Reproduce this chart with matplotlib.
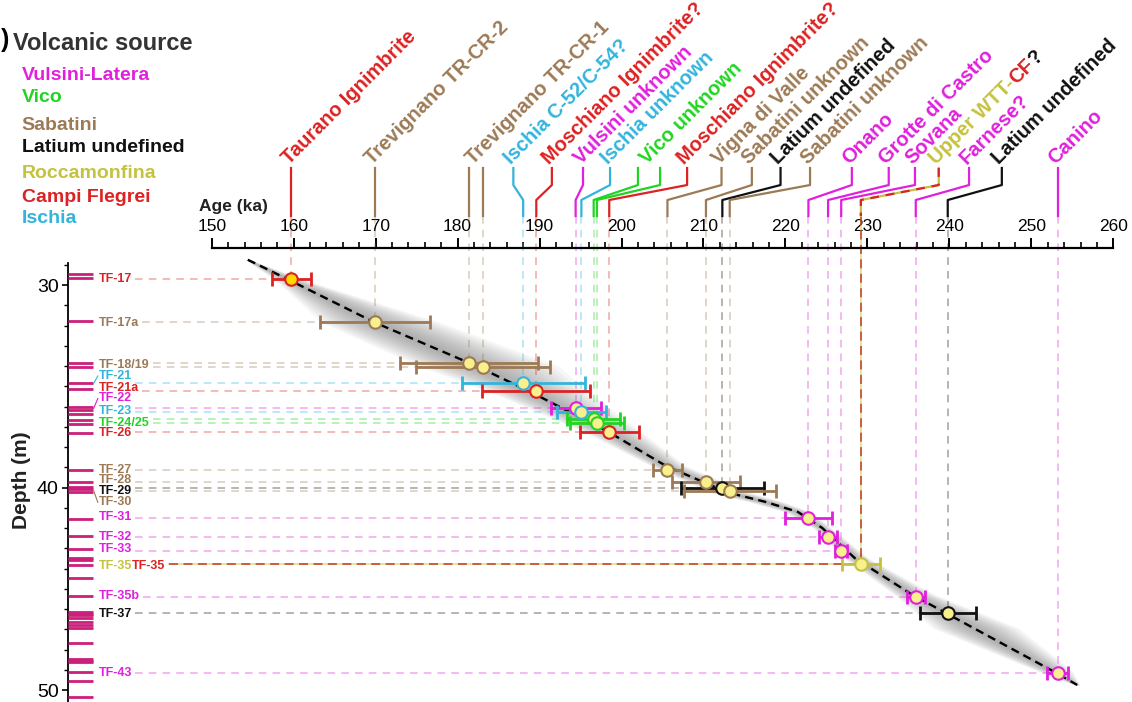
import numpy as np
import matplotlib
matplotlib.use('Agg')
import matplotlib.pyplot as plt
from matplotlib import transforms
from matplotlib.ticker import FixedLocator

plt.rcParams['font.family'] = ['Liberation Sans', 'DejaVu Sans']

# ---------------------------------------------------------------------------
# tephra samples: age (ka), 1-sigma age error (ka), depth (m), volcanic source
samples = ['TF-17', 'TF-17a', 'TF-18', 'TF-19', 'TF-21', 'TF-21a', 'TF-22',
           'TF-23', 'TF-24', 'TF-25', 'TF-26', 'TF-27', 'TF-28', 'TF-29',
           'TF-30', 'TF-31', 'TF-32', 'TF-33', 'TF-35', 'TF-35b', 'TF-37',
           'TF-43']
age = [159.7, 169.9, 181.4, 183.1, 188.0, 189.6, 194.4, 195.1, 196.6, 197.0,
       198.5, 205.6, 210.3, 212.3, 213.2, 222.8, 225.2, 226.8, 229.2, 235.9,
       239.8, 253.2]
age_err = [2.4, 6.7, 8.4, 8.2, 7.5, 6.6, 3.05, 3.0, 3.25, 3.3, 3.6, 1.8, 4.2,
           5.1, 5.6, 2.9, 1.1, 0.7, 2.3, 1.1, 3.4, 1.3]
depth = [29.72, 31.83, 33.87, 34.06, 34.85, 35.22, 36.09, 36.29, 36.62, 36.83,
         37.27, 39.14, 39.74, 40.04, 40.16, 41.49, 42.43, 43.12, 43.79, 45.39,
         46.21, 49.15]
source = ['CF', 'Sab', 'Sab', 'Sab', 'Isc', 'CF', 'VL', 'Isc', 'Vico', 'Vico',
          'CF', 'Sab', 'Sab', 'Lat', 'Sab', 'VL', 'VL', 'VL', 'Roc', 'VL',
          'Lat', 'VL']

# labels on the depth axis
tf_labels = ['TF-17', 'TF-17a', 'TF-18/19', 'TF-21', 'TF-21a', 'TF-22',
             'TF-23', 'TF-24/25', 'TF-26', 'TF-27', 'TF-28', 'TF-29', 'TF-30',
             'TF-31', 'TF-32', 'TF-33', 'TF-35', 'TF-35b', 'TF-37', 'TF-43']
tf_label_src = ['CF', 'Sab', 'Sab', 'Isc', 'CF', 'VL', 'Isc', 'Vico', 'CF',
                'Sab', 'Sab', 'Lat', 'Sab', 'VL', 'VL', 'VL', 'Roc', 'VL',
                'Lat', 'VL']
tf_label_depth = [29.72, 31.86, 33.95, 34.49, 35.10, 35.60, 36.21, 36.80,
                  37.32, 39.14, 39.63, 40.16, 40.73, 41.44, 42.43, 43.05,
                  43.88, 45.36, 46.26, 49.15]

# all sampled tephra layers in the core (m)
core_layers = [29.46, 29.67, 31.78, 33.87, 34.06, 34.85, 35.15, 36.01, 36.17,
               36.37, 36.67, 36.86, 37.29, 39.14, 39.71, 39.96, 40.09, 40.21,
               41.56, 42.38, 43.05, 43.50, 43.60, 43.83, 44.48, 45.36, 46.13,
               46.22, 46.30, 46.46, 46.63, 46.79, 46.95, 47.69, 48.45, 48.55,
               48.62, 49.10, 49.56, 50.33]

# age-depth model and its uncertainty envelope (ka either side)
model_age = [154.4, 159.7, 169.9, 182.3, 189.0, 198.4, 205.5, 213.0, 217.5,
             221.5, 224.5, 228.5, 235.5, 243.0, 252.8, 255.6]
model_depth = [28.75, 29.80, 31.85, 34.00, 35.30, 37.25, 38.95, 40.25, 40.70,
               41.20, 42.00, 43.50, 45.30, 46.95, 49.10, 49.75]
env_left = [0.3, 1.8, 6.5, 7.0, 5.0, 3.0, 1.8, 2.2, 2.0, 1.6, 1.1, 1.3, 2.2,
            5.0, 1.8, 0.3]
env_right = [0.3, 2.0, 8.0, 10.0, 7.0, 4.0, 2.4, 2.7, 2.2, 1.6, 1.1, 1.7, 2.8,
             5.5, 2.3, 0.3]

# correlated eruptions: name, source, [(label age, sample age), ...]
eruptions = ['Taurano Ignimbrite', 'Trevignano TR-CR-2', 'Trevignano TR-CR-1',
             'Ischia C-52/C-54?', 'Moschiano Ignimbrite?', 'Vulsini unknown',
             'Ischia unknown', 'Vico unknown', 'Moschiano Ignimbrite?',
             'Vigna di Valle', 'Sabatini unknown', 'Latium undefined',
             'Sabatini unknown', 'Onano', 'Grotte di Castro', 'Sovana',
             'Upper WTT-CF?', 'Farnese?', 'Latium undefined', 'Canino']
eruption_src = ['CF', 'Sab', 'Sab', 'Isc', 'CF', 'VL', 'Isc', 'Vico', 'CF',
                'Sab', 'Sab', 'Lat', 'Sab', 'VL', 'VL', 'VL', 'Roc', 'VL',
                'Lat', 'VL']
eruption_links = [[(159.7, 159.7)], [(169.9, 169.9)],
                  [(181.4, 181.4), (183.1, 183.1)], [(186.8, 188.0)],
                  [(191.5, 189.6)], [(195.3, 194.4)], [(198.6, 195.1)],
                  [(202.0, 196.6), (204.7, 197.0)], [(208.0, 198.5)],
                  [(212.2, 205.6)], [(215.9, 210.3)], [(219.4, 212.3)],
                  [(223.0, 213.2)], [(228.1, 222.8)], [(232.6, 225.2)],
                  [(235.8, 226.8)], [(238.7, 229.2)], [(242.4, 235.9)],
                  [(246.4, 239.8)], [(253.2, 253.2)]]

legend_names = ['Vulsini-Latera', 'Vico', 'Sabatini', 'Latium undefined',
                'Roccamonfina', 'Campi Flegrei', 'Ischia']
legend_src = ['VL', 'Vico', 'Sab', 'Lat', 'Roc', 'CF', 'Isc']

colors = {'VL': '#e020dc', 'Vico': '#22d422', 'Sab': '#9c7a55',
          'Lat': '#111111', 'Roc': '#c4c23e', 'CF': '#dc2222',
          'Isc': '#33b4dc'}

# ---------------------------------------------------------------------------
W, H = 1132, 702
fig = plt.figure(figsize=(W / 100, H / 100), dpi=100)
ax = fig.add_axes([68.3 / W, 0, (1113.3 - 68.3) / W, (702 - 248) / H])
ax.set_xlim(132.5, 260)
ax.set_ylim(50.59, 28.17)

# header geometry in depth units (above the age axis)
y_top, y_bend1, y_bend2, y_end = 24.22, 25.06, 25.80, 26.59
y_text = 24.07

# uncertainty envelope, shaded in layers
m_age = np.array(model_age)
m_dep = np.array(model_depth)
for f in np.linspace(1.0, 0.1, 12):
    ax.fill_betweenx(m_dep, m_age - f * np.array(env_left),
                     m_age + f * np.array(env_right),
                     color='#6e6e6e', alpha=0.06, lw=0, zorder=1)
ax.plot(model_age, model_depth, color='k', lw=1.7, ls=(0, (3.5, 2.2)),
        zorder=4)

# core layers
ax.hlines(core_layers, 132.5, 135.5, color='#cc1f7a', lw=2.0, zorder=3)

# labels on the depth axis
label_text = {}
for name, src, d in zip(tf_labels, tf_label_src, tf_label_depth):
    t = ax.text(136.2, d, name, ha='left', va='center', fontsize=9,
                fontweight='bold', color=colors[src], zorder=5)
    label_text[name] = t

fig.canvas.draw()
renderer = fig.canvas.get_renderer()
inv = ax.transData.inverted()

# second source for TF-35 (Campi Flegrei), written right after
bb = label_text['TF-35'].get_window_extent(renderer)
t35 = ax.text(inv.transform((bb.x1, bb.y0))[0], 43.88, 'TF-35', ha='left',
              va='center', fontsize=9, fontweight='bold', color=colors['CF'],
              zorder=5)
label_text['TF-35'] = t35
fig.canvas.draw()


def label_end(name):
    b = label_text[name].get_window_extent(renderer)
    return inv.transform((b.x1, b.y0))[0]


# guide lines from labels to points and from points to the age axis
for s, a, d, src in zip(samples, age, depth, source):
    lab = {'TF-18': 'TF-18/19', 'TF-19': 'TF-18/19',
           'TF-24': 'TF-24/25', 'TF-25': 'TF-24/25'}.get(s, s)
    x0 = label_end(lab) + 0.4
    c = colors[src]
    if s == 'TF-35':
        for xs, ys in (([x0, a], [d, d]), ([a, a], [y_end, d])):
            ax.plot(xs, ys, color=colors['Roc'], lw=1.3, alpha=0.5, zorder=2,
                    clip_on=False)
            ax.plot(xs, ys, color='#c0301e', lw=1.3, alpha=0.8,
                    ls=(0, (5, 3)), zorder=2, clip_on=False)
        continue
    ax.plot([x0, a], [d, d], color=c, lw=1.1, alpha=0.4, ls=(0, (5, 4)),
            zorder=2)
    ax.plot([a, a], [y_end, d], color=c, lw=1.1, alpha=0.4, ls=(0, (5, 4)),
            zorder=2, clip_on=False)

# small leaders for labels moved off their layer
for name, src, ld in zip(tf_labels, tf_label_src, tf_label_depth):
    if name in samples:
        d = depth[samples.index(name)]
        if abs(d - ld) > 0.25:
            ax.plot([135.6, 136.1], [d, ld], color=colors[src], lw=0.8,
                    zorder=3)

# error bars and points
for a, e, d, src in zip(age, age_err, depth, source):
    c = colors[src]
    ax.errorbar(a, d, xerr=e, fmt='none', ecolor=c, elinewidth=2.0,
                capsize=5, capthick=2.0, zorder=5)
    fill = '#ffd800' if src == 'CF' and a < 165 else '#f8f08c'
    ax.plot(a, d, 'o', ms=9, mfc=fill, mec=c, mew=1.5, zorder=6)

# header: eruption names with leader lines to the age axis
hfs = 14.5
for name, src, links in zip(eruptions, eruption_src, eruption_links):
    c = colors[src]
    for s, t in links:
        if s == t:
            xs, ys = [s, s], [y_top, y_end]
        else:
            xs, ys = [s, s, t, t], [y_top, y_bend1, y_bend2, y_end]
        if name.startswith('Upper WTT'):
            ax.plot(xs, ys, color=c, lw=1.6, clip_on=False)
            ax.plot(xs, ys, color=colors['CF'], lw=1.6, ls=(0, (4, 3)),
                    clip_on=False)
        else:
            ax.plot(xs, ys, color=c, lw=1.6, clip_on=False)
    lx = np.mean([s for s, t in links]) - 0.3
    kw = dict(rotation=45, rotation_mode='anchor', ha='left', va='baseline',
              fontsize=hfs, fontweight='bold', clip_on=False)
    if name.startswith('Upper WTT'):
        pieces = [('Upper WTT-', colors['Roc']), ('CF', colors['CF']),
                  ('?', '#111111')]
        off = 0.0
        for txt, pc in pieces:
            tr = transforms.offset_copy(ax.transData, fig=fig,
                                        x=off * np.cos(np.pi / 4),
                                        y=off * np.sin(np.pi / 4),
                                        units='dots')
            ax.text(lx, y_text, txt, color=pc, transform=tr, **kw)
            tmp = fig.text(0, 0, txt, fontsize=hfs, fontweight='bold')
            off += tmp.get_window_extent(renderer).width
            tmp.remove()
    else:
        ax.text(lx, y_text, name, color=c, **kw)

ax.text(152.6, 26.13, 'Age (ka)', ha='center', va='center', fontsize=12.5,
        fontweight='bold', color='#222222', clip_on=False)

# axes
for side in ('right', 'bottom'):
    ax.spines[side].set_visible(False)
ax.spines['top'].set_bounds(150, 260)
ax.spines['top'].set_linewidth(1.6)
ax.spines['left'].set_bounds(28.9, 50.59)
ax.spines['left'].set_linewidth(1.3)
ax.xaxis.set_ticks_position('top')
ax.set_xticks(np.arange(150, 261, 10))
ax.xaxis.set_minor_locator(FixedLocator(np.arange(152, 260, 2)))
ax.tick_params(axis='x', which='major', direction='out', length=7, width=1.4,
               labelsize=12.5, pad=3)
ax.tick_params(axis='x', which='minor', direction='out', length=4, width=1.2)
ax.set_yticks([30, 40, 50])
ax.yaxis.set_minor_locator(FixedLocator(np.arange(29, 51, 1)))
ax.tick_params(axis='y', which='major', direction='out', length=4, width=1.2,
               labelsize=14, pad=3)
ax.tick_params(axis='y', which='minor', direction='out', length=3, width=1.0)

fig.text(22 / W, 1 - 480 / H, 'Depth (m)', rotation=90, ha='center',
         va='center', fontsize=15, fontweight='bold', color='#222222')

# source legend
fig.text(0.001, 1 - 40 / H, ')', fontsize=18, fontweight='bold',
         va='center', ha='left')
fig.text(13 / W, 1 - 43 / H, 'Volcanic source', fontsize=17,
         fontweight='bold', color='#333333', va='center', ha='left')
for name, src, y in zip(legend_names, legend_src,
                        [75, 98, 125, 147, 173, 197, 218]):
    fig.text(21.7 / W, 1 - y / H, name, fontsize=14, fontweight='bold',
             color=colors[src], va='center', ha='left')

fig.savefig('out.png', dpi=100)
